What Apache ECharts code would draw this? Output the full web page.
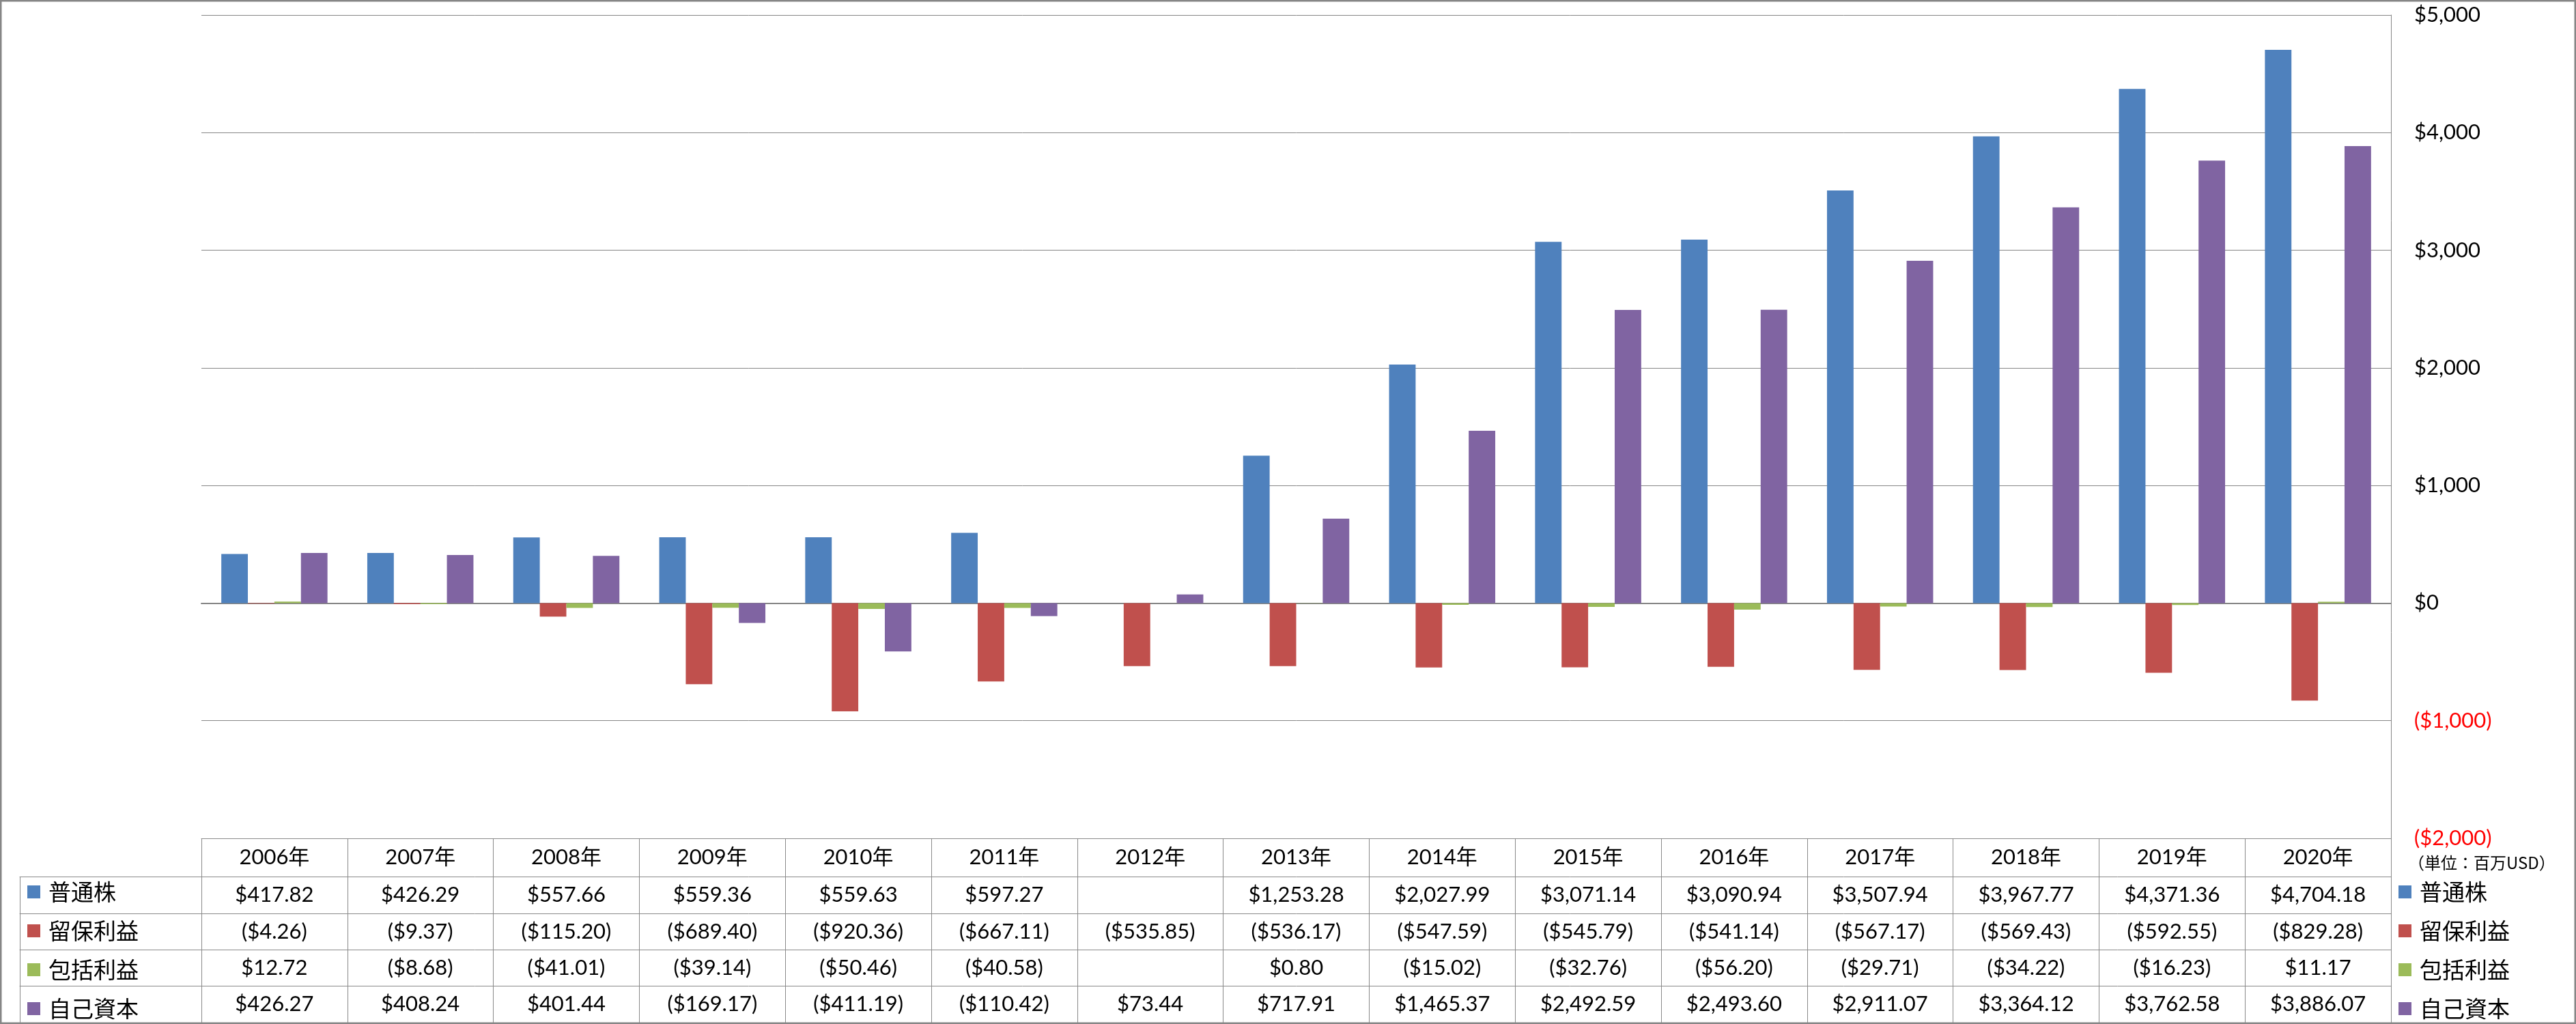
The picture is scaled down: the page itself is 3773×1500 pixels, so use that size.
<!DOCTYPE html>
<html>
<head>
<meta charset="utf-8">
<style>
  html, body { margin: 0; padding: 0; background: #fff; }
  #chart { width: 3773px; height: 1500px; }
</style>
<script src="https://cdn.jsdelivr.net/npm/echarts@6/dist/echarts.min.js"></script>
</head>
<body>
<div id="chart"></div>
<script>
// ---- Data ----
const categories = ['2006年','2007年','2008年','2009年','2010年','2011年','2012年','2013年','2014年','2015年','2016年','2017年','2018年','2019年','2020年'];
const seriesNames = ['普通株','留保利益','包括利益','自己資本'];
const commonStock = [417.82, 426.29, 557.66, 559.36, 559.63, 597.27, null, 1253.28, 2027.99, 3071.14, 3090.94, 3507.94, 3967.77, 4371.36, 4704.18];
const retainedEarnings = [-4.26, -9.37, -115.20, -689.40, -920.36, -667.11, -535.85, -536.17, -547.59, -545.79, -541.14, -567.17, -569.43, -592.55, -829.28];
const comprehensiveIncome = [12.72, -8.68, -41.01, -39.14, -50.46, -40.58, null, 0.80, -15.02, -32.76, -56.20, -29.71, -34.22, -16.23, 11.17];
const equity = [426.27, 408.24, 401.44, -169.17, -411.19, -110.42, 73.44, 717.91, 1465.37, 2492.59, 2493.60, 2911.07, 3364.12, 3762.58, 3886.07];
const yTicks = { min: -2000, max: 5000, interval: 1000 };
const unitLabel = '（単位：百万USD）';

// ---- Styling / layout ----
const seriesData = [commonStock, retainedEarnings, comprehensiveIncome, equity];
const colors = ['#4F81BD', '#C0504D', '#9BBB59', '#8064A2'];
const lineColor = '#898989';
const latin = 'Lato, "Noto Sans CJK JP", sans-serif';
const cjk = '"Noto Sans CJK JP", sans-serif';

// row layout (offsets below plot bottom)
const rowOffsets = [0, 56, 110, 163, 216, 270];

function fmtMoney(v) {
  if (v === null || v === undefined) return '';
  const s = Math.abs(v).toLocaleString('en-US', { minimumFractionDigits: 2, maximumFractionDigits: 2 });
  return v < 0 ? '($' + s + ')' : '$' + s;
}
function fmtAxis(v) {
  v = Number(v);
  const s = Math.abs(v).toLocaleString('en-US');
  return v < 0 ? '($' + s + ')' : '$' + s;
}

const xAxes = [];
// main category axis (zero line)
xAxes.push({
  gridIndex: 0, type: 'category', data: categories,
  axisLine: { show: true, onZero: true, lineStyle: { color: '#868686', width: 2 } },
  axisTick: { show: false }, axisLabel: { show: false }, splitLine: { show: false }
});
// header row
xAxes.push({
  gridIndex: 0, type: 'category', data: categories, position: 'bottom', offset: rowOffsets[0],
  axisLine: { show: true, onZero: false, lineStyle: { color: lineColor, width: 1 } },
  axisTick: { show: true, interval: 0, length: rowOffsets[1] - rowOffsets[0], lineStyle: { color: lineColor, width: 1 } },
  axisLabel: { show: true, interval: 0, margin: (rowOffsets[1] - rowOffsets[0]) / 2, verticalAlign: 'middle',
    fontSize: 31, color: '#000', fontFamily: latin },
  splitLine: { show: false }
});
// data rows
for (let i = 0; i < 4; i++) {
  const h = rowOffsets[i + 2] - rowOffsets[i + 1];
  const d = seriesData[i];
  xAxes.push({
    gridIndex: 0, type: 'category', data: categories, position: 'bottom', offset: rowOffsets[i + 1],
    axisLine: { show: true, onZero: false, lineStyle: { color: lineColor, width: 1 } },
    axisTick: { show: true, interval: 0, length: h, lineStyle: { color: lineColor, width: 1 } },
    axisLabel: { show: true, interval: 0, margin: h / 2, verticalAlign: 'middle',
      fontSize: 31, color: '#000', fontFamily: latin,
      formatter: (v, idx) => fmtMoney(d[idx]) },
    splitLine: { show: false }
  });
  // legend-column row in grid 1
  xAxes.push({
    gridIndex: 1, type: 'category', data: [''], position: 'bottom', offset: rowOffsets[i + 1],
    axisLine: { show: true, onZero: false, lineStyle: { color: lineColor, width: 1 } },
    axisTick: { show: true, interval: 0, length: h, lineStyle: { color: lineColor, width: 1 } },
    axisLabel: { show: false }, splitLine: { show: false }
  });
}
// bottom border lines
[0, 1].forEach(g => xAxes.push({
  gridIndex: g, type: 'category', data: g === 0 ? categories : [''], position: 'bottom', offset: rowOffsets[5],
  axisLine: { show: true, onZero: false, lineStyle: { color: lineColor, width: 1 } },
  axisTick: { show: false }, axisLabel: { show: false }, splitLine: { show: false }
}));

const legendBase = {
  type: 'plain', orient: 'vertical', icon: 'rect', itemWidth: 19, itemHeight: 19, itemGap: 24,
  top: 1290, height: 260, padding: 0, data: seriesNames, selectedMode: false,
  textStyle: { fontSize: 33, lineHeight: 30, color: '#000', fontFamily: cjk, padding: [0, 0, 0, 7] }
};

const option = {
  animation: false,
  backgroundColor: '#fff',
  color: colors,
  grid: [
    { left: 295, right: 271, top: 22, bottom: 272, containLabel: false },
    { left: 29, width: 266, top: 22, bottom: 272, containLabel: false }
  ],
  legend: [
    Object.assign({}, legendBase, { left: 40 }),
    Object.assign({}, legendBase, { left: 3513 })
  ],
  xAxis: xAxes,
  yAxis: [
    {
      gridIndex: 0, type: 'value', position: 'right',
      min: yTicks.min, max: yTicks.max, interval: yTicks.interval,
      axisLine: { show: true, lineStyle: { color: '#868686', width: 1 } },
      axisTick: { show: false },
      splitLine: { show: true, lineStyle: { color: '#868686', width: 1 } },
      axisLabel: { margin: 34, fontSize: 31, fontFamily: latin,
        formatter: fmtAxis,
        color: (v) => Number(v) < 0 ? '#FF0000' : '#000' }
    },
    { gridIndex: 1, type: 'value', show: false }
  ],
  series: seriesNames.map((name, i) => ({
    name, type: 'bar', xAxisIndex: 0, yAxisIndex: 0,
    data: seriesData[i],
    barGap: '0%', barCategoryGap: '27.27%',
    itemStyle: { color: colors[i] }
  })),
  graphic: [
    { type: 'text', left: 3527, top: 1252, silent: true,
      style: { text: unitLabel, font: '24px "Noto Sans CJK JP"', fill: '#000' } },
    { type: 'rect', silent: true, z: 100,
      shape: { x: 1, y: 1, width: 3771, height: 1498 },
      style: { fill: 'none', stroke: '#868686', lineWidth: 3 } }
  ]
};

const chart = echarts.init(document.getElementById('chart'), null, { renderer: 'canvas' });
chart.setOption(option);
</script>
</body>
</html>
